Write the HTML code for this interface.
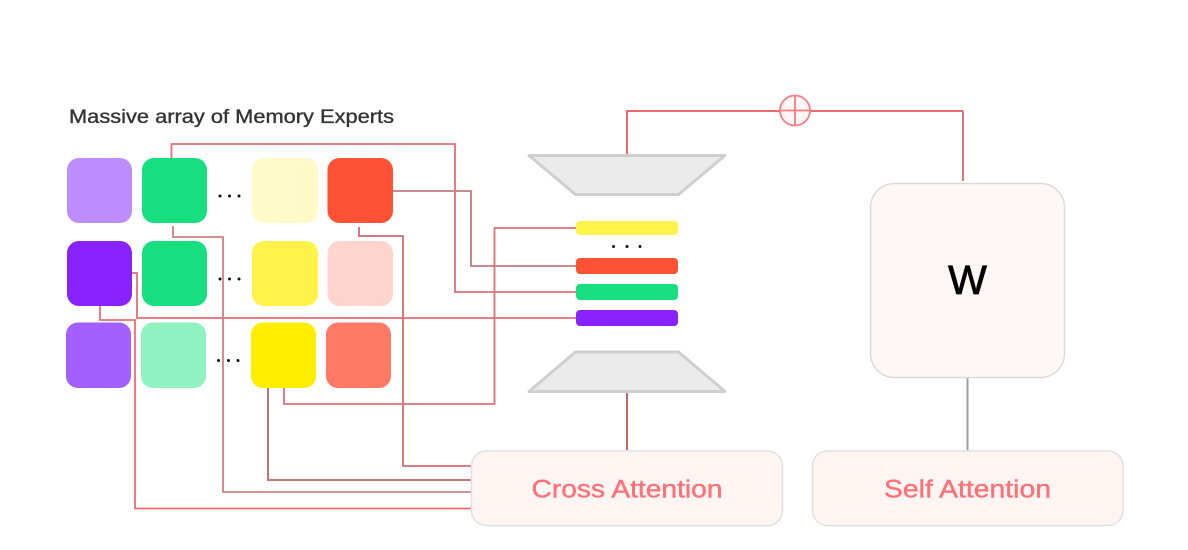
<!DOCTYPE html>
<html><head><meta charset="utf-8"><style>
html,body{margin:0;padding:0;background:#fff;width:1188px;height:550px;overflow:hidden}
svg{display:block}
text{font-family:"Liberation Sans",sans-serif}
</style></head><body>
<svg width="1188" height="550" viewBox="0 0 1188 550" xmlns="http://www.w3.org/2000/svg">
<text x="69" y="123" font-size="19" fill="#333" stroke="#333" stroke-width="0.35" textLength="325" lengthAdjust="spacingAndGlyphs">Massive array of Memory Experts</text>
<g fill="none" stroke-width="1.8">
<path d="M171.500 158V144H455V292H576" stroke="#e36f76"/>
<path d="M393 191H471V266H576" stroke="#c07c80"/>
<path d="M576 228H494.500V404H284V388" stroke="#e36f76"/>
<path d="M132 273H137V318H576" stroke="#e36f76"/>
<path d="M100 306V320H135V508.500H471" stroke="#ee6b71"/>
<path d="M173 226V237H223V492H471" stroke="#cf8083"/>
<path d="M359 227V236H403V466H471" stroke="#d36b72"/>
<path d="M268 388V480H471" stroke="#c47478" stroke-width="2"/>
<path d="M627 155V111H963" stroke="#f0686e" stroke-width="2"/>
<path d="M963 111V181" stroke="#cc7b7f" stroke-width="2"/>
<path d="M627 392V450" stroke="#c4666c" stroke-width="2"/>
<path d="M967.500 377V450" stroke="#a0a0a0" stroke-width="2"/>
</g>
<g stroke="none">
<rect x="67" y="158" width="65" height="65" rx="12" fill="#bd8cff"/>
<rect x="142" y="158" width="65" height="65" rx="12" fill="#17df80"/>
<rect x="252" y="158" width="66" height="65" rx="12" fill="#fffac8"/>
<rect x="327.500" y="158" width="65.500" height="65" rx="12" fill="#ff5235"/>
<rect x="67" y="241" width="65" height="65" rx="12" fill="#8822ff"/>
<rect x="142" y="241" width="65" height="65" rx="12" fill="#17df80"/>
<rect x="252" y="241" width="66" height="65" rx="12" fill="#fff34a"/>
<rect x="327.500" y="241" width="65.500" height="65" rx="12" fill="#ffd5ce"/>
<rect x="66" y="322.500" width="65" height="65.500" rx="12" fill="#a45fff"/>
<rect x="141" y="322.500" width="65" height="65.500" rx="12" fill="#8ff2c0"/>
<rect x="251" y="322.500" width="65" height="65.500" rx="12" fill="#ffee00"/>
<rect x="326" y="322.500" width="65" height="65.500" rx="12" fill="#ff7965"/>
<rect x="576" y="221" width="102" height="14" rx="4" fill="#fff34a"/>
<rect x="576" y="258" width="102" height="16" rx="4" fill="#ff5235"/>
<rect x="576" y="284" width="102" height="16" rx="4" fill="#17df80"/>
<rect x="576" y="310" width="102" height="16" rx="4" fill="#8822ff"/>
</g>
<g fill="#111">
<circle cx="220" cy="196" r="1.500"/><circle cx="229.500" cy="196" r="1.500"/><circle cx="239" cy="196" r="1.500"/>
<circle cx="220" cy="279" r="1.500"/><circle cx="229.500" cy="279" r="1.500"/><circle cx="239" cy="279" r="1.500"/>
<circle cx="218.500" cy="360.500" r="1.500"/><circle cx="228.500" cy="360.500" r="1.500"/><circle cx="238" cy="360.500" r="1.500"/>
<circle cx="613.500" cy="246.500" r="1.500"/><circle cx="627" cy="246.500" r="1.500"/><circle cx="640" cy="246.500" r="1.500"/>
</g>
<path d="M529 155.500H725L678.500 194.500H575.500Z" fill="#ebebeb" stroke="#cfcfcf" stroke-width="3" stroke-linejoin="round"/>
<path d="M575.500 352H678.500L725 391.500H529Z" fill="#ebebeb" stroke="#cfcfcf" stroke-width="3" stroke-linejoin="round"/>
<circle cx="795" cy="110.500" r="15" fill="#fff6f5" stroke="#f87c81" stroke-width="1.800"/>
<path d="M780 110.500H810M795 95.500V125.500" stroke="#f87c81" stroke-width="1.800" fill="none"/>
<rect x="870.500" y="183.500" width="194" height="194" rx="24" fill="#fff7f5" stroke="#dcdada" stroke-width="1.500"/>
<text x="967.500" y="294" font-size="41" fill="#000" stroke="#000" stroke-width="0.8" text-anchor="middle">W</text>
<rect x="471.500" y="451" width="311" height="74.500" rx="15" fill="#fff6f4" stroke="#e2dfdf" stroke-width="1.500"/>
<rect x="812.500" y="451" width="310.500" height="74.500" rx="15" fill="#fff6f4" stroke="#e2dfdf" stroke-width="1.500"/>
<text x="627" y="497.500" font-size="25" fill="#ff7078" stroke="#ff7078" stroke-width="0.4" text-anchor="middle" textLength="191" lengthAdjust="spacingAndGlyphs">Cross Attention</text>
<text x="967.500" y="497.500" font-size="25" fill="#ff7078" stroke="#ff7078" stroke-width="0.4" text-anchor="middle" textLength="167" lengthAdjust="spacingAndGlyphs">Self Attention</text>
</svg>
</body></html>
